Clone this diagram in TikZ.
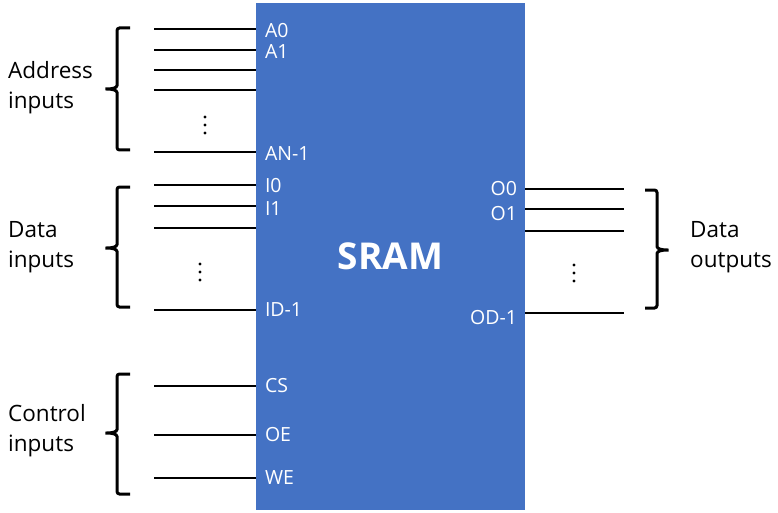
\documentclass[tikz,border=0pt]{standalone}
\usepackage{fontspec}
\setmainfont{Open Sans}
\usepackage{xcolor}
\usetikzlibrary{positioning,calc}
\definecolor{chipblue}{HTML}{4472C4}
\tikzset{
  chip/.style   = {draw=none, fill=chipblue, minimum width=269pt, minimum height=507pt,
                   inner sep=0pt, text=white, font=\fontsize{37}{40}\selectfont\bfseries},
  wire/.style   = {line width=1.8pt, draw=black},
  pinlab/.style = {text=white, font=\fontsize{19.5}{20}\selectfont, inner sep=0pt},
  brc/.style    = {line width=3pt, draw=black, rounded corners=2.5pt},
  grplab/.style = {align=left, font=\fontsize{22.5}{30}\selectfont, inner sep=0pt},
  vdot/.style   = {fill=black, draw=none},
}

\begin{document}
\begin{tikzpicture}[x=1pt, y=-1pt]
  \useasboundingbox (0,0) rectangle (778,513);

  \node[chip] (sram) at (390.5,256.5) {SRAM};

  % --- address pins ---
  \coordinate (a0) at (154,29);
  \coordinate (a1) at (154,50);
  \coordinate (a2) at (154,70);
  \coordinate (a3) at (154,90);
  \coordinate (an) at (154,152);
  \draw[wire] (a0) -- (a0 -| sram.west);
  \draw[wire] (a1) -- (a1 -| sram.west);
  \draw[wire] (a2) -- (a2 -| sram.west);
  \draw[wire] (a3) -- (a3 -| sram.west);
  \draw[wire] (an) -- (an -| sram.west);
  \node[pinlab, anchor=west] (la0) at ($(a0 -| sram.west)+(9,2)$) {A0};
  \node[pinlab, anchor=west] (la1) at ($(a1 -| sram.west)+(9,2)$) {A1};
  \node[pinlab, anchor=west] (lan) at ($(an -| sram.west)+(9,2)$) {AN-1};

  % --- data input pins ---
  \coordinate (i0) at (154,185);
  \coordinate (i1) at (154,206);
  \coordinate (i2) at (154,228);
  \coordinate (id) at (154,310);
  \draw[wire] (i0) -- (i0 -| sram.west);
  \draw[wire] (i1) -- (i1 -| sram.west);
  \draw[wire] (i2) -- (i2 -| sram.west);
  \draw[wire] (id) -- (id -| sram.west);
  \node[pinlab, anchor=west] (li0) at ($(i0 -| sram.west)+(9,1)$) {I0};
  \node[pinlab, anchor=west] (li1) at ($(i1 -| sram.west)+(9,3)$) {I1};
  \node[pinlab, anchor=west] (lid) at ($(id -| sram.west)+(9,0)$) {ID-1};

  % --- control pins ---
  \coordinate (cs) at (154,386);
  \coordinate (oe) at (154,435);
  \coordinate (we) at (154,478);
  \draw[wire] (cs) -- (cs -| sram.west);
  \draw[wire] (oe) -- (oe -| sram.west);
  \draw[wire] (we) -- (we -| sram.west);
  \node[pinlab, anchor=west] (lcs) at ($(cs -| sram.west)+(9,0)$) {CS};
  \node[pinlab, anchor=west] (loe) at ($(oe -| sram.west)+(9,0)$) {OE};
  \node[pinlab, anchor=west] (lwe) at ($(we -| sram.west)+(9,0)$) {WE};

  % --- data output pins ---
  \coordinate (o0) at (624,189);
  \coordinate (o1) at (624,209);
  \coordinate (o2) at (624,231);
  \coordinate (od) at (624,313);
  \draw[wire] (o0 -| sram.east) -- (o0);
  \draw[wire] (o1 -| sram.east) -- (o1);
  \draw[wire] (o2 -| sram.east) -- (o2);
  \draw[wire] (od -| sram.east) -- (od);
  \node[pinlab, anchor=east] (lo0) at ($(o0 -| sram.east)+(-8,0)$) {O0};
  \node[pinlab, anchor=east] (lo1) at ($(o1 -| sram.east)+(-8,5)$) {O1};
  \node[pinlab, anchor=east] (lod) at ($(od -| sram.east)+(-8,5)$) {OD-1};

  % --- vertical dots ---
  \fill[vdot] (205,117) circle (1.6) (205,125) circle (1.6) (205,133) circle (1.6);
  \fill[vdot] (200,264) circle (1.6) (200,272) circle (1.6) (200,280) circle (1.6);
  \fill[vdot] (574,265) circle (1.6) (574,273) circle (1.6) (574,281) circle (1.6);

  % --- braces ---
  \draw[brc] (130,28) -- (117,28) -- (117,83) .. controls (117,88) and (112,89) .. (104,89)
             .. controls (112,89) and (117,90) .. (117,95) -- (117,150) -- (130,150);
  \draw[brc] (130,187) -- (117,187) -- (117,242) .. controls (117,247) and (112,248) .. (104,248)
             .. controls (112,248) and (117,249) .. (117,254) -- (117,307) -- (130,307);
  \draw[brc] (130,374) -- (117,374) -- (117,427) .. controls (117,432) and (112,433) .. (104,433)
             .. controls (112,433) and (117,434) .. (117,439) -- (117,494) -- (130,494);
  \draw[brc] (645,190) -- (657,190) -- (657,244) .. controls (657,249) and (662,250) .. (670,250)
             .. controls (662,250) and (657,251) .. (657,256) -- (657,308) -- (645,308);

  % --- group labels ---
  \node[grplab, anchor=west] (addr) at (8,88) {Address\\inputs};
  \node[grplab, anchor=west] (din)  at (8,247) {Data\\inputs};
  \node[grplab, anchor=west] (ctl)  at (8,431) {Control\\inputs};
  \node[grplab, anchor=west] (dout) at (690,247) {Data\\outputs};
\end{tikzpicture}
\end{document}
